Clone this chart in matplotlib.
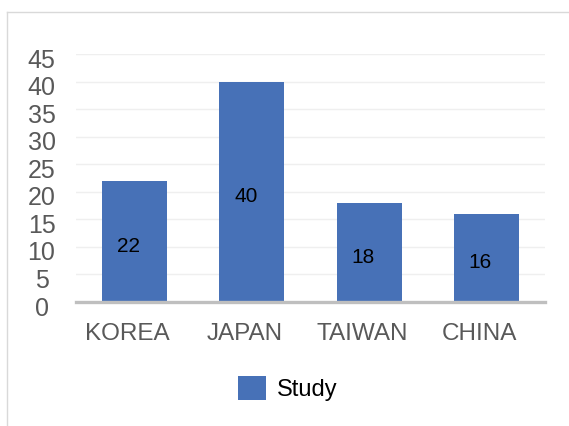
import matplotlib
matplotlib.use("Agg")
import matplotlib.pyplot as plt
from matplotlib.lines import Line2D
from matplotlib.patches import Patch
from matplotlib.transforms import ScaledTranslation

categories = ["KOREA", "JAPAN", "TAIWAN", "CHINA"]
values = [22, 40, 18, 16]
yticks = [0, 5, 10, 15, 20, 25, 30, 35, 40, 45]
series_name = "Study"

bar_color = "#4771B7"
tick_color = "#595959"
FONT = "Liberation Sans"

fig = plt.figure(figsize=(5.69, 4.26), dpi=100)
ax = fig.add_axes([76/569, 124/426, 469/569, 247.7/426])

x = list(range(len(categories)))
ax.bar(x, values, width=0.555, color=bar_color, zorder=3)

for xi, v in zip(x, values):
    ax.annotate(str(v), (xi, v / 2), xytext=(-4.3, -3.6), textcoords="offset points",
                ha="center", va="center", fontsize=15, color="black", family=FONT)

ax.set_xlim(-0.5, len(categories) - 0.5)
ax.set_ylim(0, 45)
ax.set_yticks(yticks)
ax.set_xticks(x)
ax.set_xticklabels(categories, family=FONT, fontsize=17.5, color=tick_color)
ax.set_yticklabels([str(t) for t in yticks], family=FONT, fontsize=18, color=tick_color,
                   ha="center")
ax.tick_params(axis="y", length=0, pad=24.8)
ax.tick_params(axis="x", length=0, pad=15)

for lab in ax.get_yticklabels():
    lab.set_transform(lab.get_transform() + ScaledTranslation(0, -4/100, fig.dpi_scale_trans))
for lab in ax.get_xticklabels():
    lab.set_transform(lab.get_transform() + ScaledTranslation(-7/100, 0, fig.dpi_scale_trans))

ax.grid(axis="y", color="#EFEFEF", linewidth=1, zorder=0)
for s in ["top", "right", "left"]:
    ax.spines[s].set_visible(False)
ax.spines["bottom"].set_color("#BFBFBF")
ax.spines["bottom"].set_linewidth(2.4)
ax.spines["bottom"].set_zorder(4)

handle = Patch(facecolor=bar_color, edgecolor="none")
fig.legend([handle], [series_name], loc="center", bbox_to_anchor=(287.7/569, 1 - 388.7/426),
           frameon=False, prop={"family": FONT, "size": 17},
           handlelength=1.17, handleheight=1.16, handletextpad=0.47,
           borderpad=0, borderaxespad=0)

fig.add_artist(Line2D([6.5/569, 1.0], [1 - 12.3/426, 1 - 12.3/426], transform=fig.transFigure,
                      color="#D9D9D9", linewidth=1))
fig.add_artist(Line2D([6.5/569, 6.5/569], [0, 1 - 12.3/426], transform=fig.transFigure,
                      color="#D9D9D9", linewidth=1))

fig.savefig("out.png", dpi=100)
